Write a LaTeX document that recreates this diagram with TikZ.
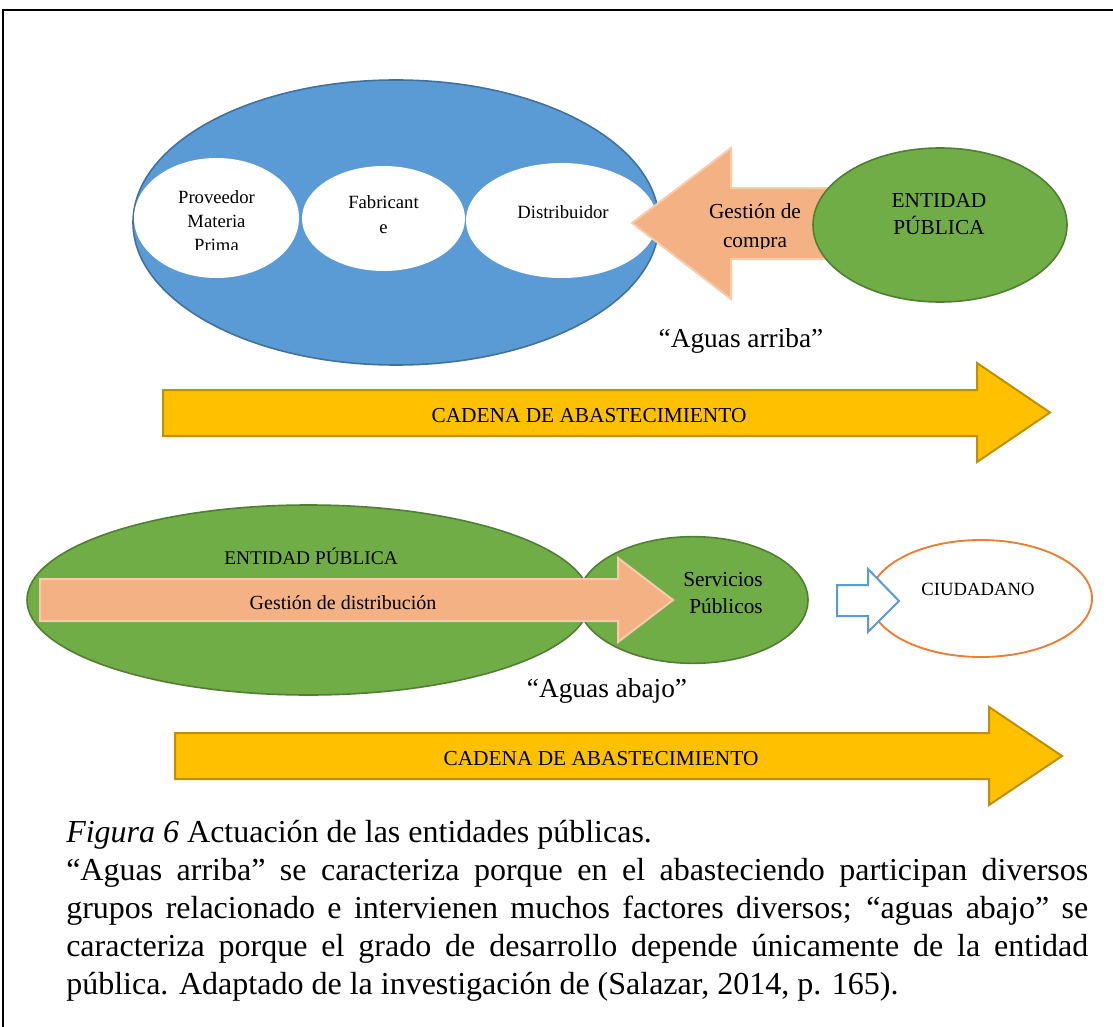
\documentclass[tikz,border=0pt]{standalone}
\usepackage{fontspec}
\setmainfont{Liberation Serif}
\usetikzlibrary{shapes.geometric}

\definecolor{supplyblue}{HTML}{5B9BD5}
\definecolor{supplybluedark}{HTML}{41719C}
\definecolor{entgreen}{HTML}{70AD47}
\definecolor{entgreendark}{HTML}{507E32}
\definecolor{flowpeach}{HTML}{F4B183}
\definecolor{flowpeachedge}{HTML}{F8CBAD}
\definecolor{chainyellow}{HTML}{FFC000}
\definecolor{chainyellowdark}{HTML}{BF9000}
\definecolor{citizenorange}{HTML}{ED7D31}

\begin{document}
\begin{tikzpicture}[x=0.75pt,y=-0.75pt,
  oval/.style={ellipse, inner sep=0pt, outer sep=0pt},
  blueoval/.style={oval, fill=supplyblue, draw=supplybluedark, line width=1.2pt},
  whiteoval/.style={oval, fill=white},
  greenoval/.style={oval, fill=entgreen, draw=entgreendark, line width=1.2pt},
  citizenoval/.style={oval, fill=white, draw=citizenorange, line width=1.4pt},
  peacharrow/.style={fill=flowpeach, draw=flowpeachedge, line width=1.5pt, line join=miter},
  chainarrow/.style={fill=chainyellow, draw=chainyellowdark, line width=1.5pt, line join=miter},
  hollowarrow/.style={fill=white, draw=supplyblue, line width=1.5pt, line join=miter},
  word/.style={inner sep=0pt, anchor=base, text=black},
  small/.style={word, font=\fontsize{14}{17}\selectfont},
  mid/.style={word, font=\fontsize{16}{19}\selectfont},
  big/.style={word, font=\fontsize{20.5}{24}\selectfont},
  caption/.style={inner sep=0pt, anchor=base west, text=black, font=\fontsize{24}{29}\selectfont}
]
\useasboundingbox (0,0) rectangle (1113,1027);
\fill[white] (0,0) rectangle (1113,1027);

% frame
\draw[line width=1.5pt] (3,1027) -- (3,10) -- (1113,10);

% ---------- upstream: supply chain actors ----------
\node[blueoval, minimum width=394.5pt, minimum height=213.75pt] (chain) at (396,222.5) {};
\node[whiteoval, minimum width=123.75pt, minimum height=90pt] (prov) at (216.5,218) {};
\node[whiteoval, minimum width=122.25pt, minimum height=78.75pt] (fabr) at (383.5,218.5) {};
\node[whiteoval, minimum width=143.25pt, minimum height=86.25pt] (dist) at (561.5,220.5) {};

\node[small] (provA) at (216.5,203) {Proveedor};
\node[small] (provB) at (216.5,227) {Materia};
\begin{scope}
  \clip (150,230) rectangle (290,249.5);
  \node[small] (provC) at (216.5,251) {Prima};
\end{scope}
\node[small] (fabrA) at (383.5,208) {Fabricant};
\node[small] (fabrB) at (383.5,233) {e};
\node[small] (distA) at (563,218) {Distribuidor};

% purchasing management arrow
\coordinate (buyTip) at (632,223);
\draw[peacharrow] (buyTip) -- (731,148) -- (731,188) -- (845,188) -- (845,259)
  -- (731,259) -- (731,299) -- cycle;
\node[mid] (buyA) at (755,219) {Gestión de};
\begin{scope}
  \clip (690,225) rectangle (820,248);
  \node[mid] (buyB) at (755,247) {compra};
\end{scope}

\node[greenoval, minimum width=190.5pt, minimum height=115.5pt] (entUp) at (940,225) {};
\node[mid] (entUpA) at (939,207) {ENTIDAD};
\node[mid] (entUpB) at (939,234) {PÚBLICA};

\node[big] (upLabel) at (741,347) {“Aguas arriba”};

% supply chain direction
\coordinate (chainTipA) at (1050,412.5);
\draw[chainarrow] (163,390) -- (977,390) -- (977,363) -- (chainTipA) -- (977,462)
  -- (977,436) -- (163,436) -- cycle;
\node[mid] (chainTextA) at (589,422) {CADENA DE ABASTECIMIENTO};

% ---------- downstream ----------
\node[greenoval, minimum width=422.25pt, minimum height=142.5pt] (entDown) at (308.5,600) {};
\node[greenoval, minimum width=172.5pt, minimum height=95pt] (serv) at (693,600) {};
\node[word, font=\fontsize{14.5}{17}\selectfont] (entDownA) at (311,564) {ENTIDAD PÚBLICA};

\coordinate (distTip) at (673,600);
\draw[peacharrow] (40,579) -- (618,579) -- (618,558) -- (distTip) -- (618,642)
  -- (618,621) -- (40,621) -- cycle;
\begin{scope}
  \clip (200,585) rectangle (480,609.5);
  \node[word, font=\fontsize{15}{18}\selectfont] (distText) at (343,609) {Gestión de distribución};
\end{scope}

\node[mid] (servA) at (723,586) {Servicios};
\node[mid] (servB) at (726,613) {Públicos};

\node[citizenoval, minimum width=166.5pt, minimum height=87.75pt] (citizen) at (981,598.5) {};
\node[small] (citizenText) at (978,595) {CIUDADANO};

\coordinate (hollowTip) at (899,601);
\draw[hollowarrow] (837,585) -- (868,585) -- (868,569) -- (hollowTip) -- (868,632)
  -- (868,616) -- (837,616) -- cycle;

\node[big] (downLabel) at (607,697) {“Aguas abajo”};

\coordinate (chainTipB) at (1062,756);
\draw[chainarrow] (175,733) -- (989,733) -- (989,707) -- (chainTipB) -- (989,805)
  -- (989,779) -- (175,779) -- cycle;
\node[mid] (chainTextB) at (601,765) {CADENA DE ABASTECIMIENTO};

% ---------- caption ----------
\node[caption] (capA) at (66,842) {\textit{Figura 6} Actuación de las entidades públicas.};
\node[caption] (capB) at (66,880) {\makebox[766.5pt][s]{“Aguas arriba” se caracteriza porque en el abasteciendo participan diversos}};
\node[caption] (capC) at (66,918) {\makebox[766.5pt][s]{grupos relacionado e intervienen muchos factores diversos; “aguas abajo” se}};
\node[caption] (capD) at (66,956) {\makebox[766.5pt][s]{caracteriza porque el grado de desarrollo depende únicamente de la entidad}};
\node[caption] (capE) at (66,994) {pública. Adaptado de la investigación de (Salazar, 2014, p. 165).};
\end{tikzpicture}
\end{document}
